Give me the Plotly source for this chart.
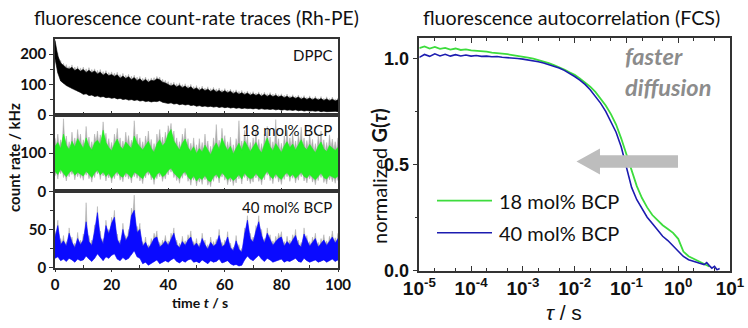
import plotly.graph_objects as go

# ---------------- data ----------------
TIME_S = list(range(0, 101))

# DPPC count-rate trace (kHz): dense black core and grey spikes
DPPC_HI = [245,194,171,162,155,151,157,146,152,144,
           150,140,147,139,145,135,141,131,138,129,
           133,127,132,121,128,120,126,116,123,113,
           119,110,117,108,114,112,119,116,108,105,
           101,95,100,92,98,90,95,87,93,84,
           89,81,87,80,85,77,84,76,81,74,
           80,73,78,70,76,68,73,67,72,65,
           70,64,69,62,68,61,67,60,65,59,
           63,57,62,55,60,54,59,52,57,51,
           56,50,55,49,54,48,53,47,52,46,
           50]
DPPC_LO = [185,138,112,104,97,92,86,82,78,74,
           68,70,64,66,61,63,59,61,57,58,
           55,57,53,55,51,53,49,51,48,50,
           46,48,44,46,43,45,44,47,42,40,
           38,40,36,38,34,36,33,35,31,33,
           29,31,28,30,27,29,26,28,25,27,
           24,26,23,25,22,24,21,23,21,22,
           20,22,19,21,19,20,18,20,17,19,
           16,18,16,17,15,17,14,16,13,15,
           13,14,12,14,11,13,11,12,11,12,
           11]
DPPC_SPIKE = [248,205,180,170,166,160,165,158,160,155,
              158,152,156,150,152,147,150,143,146,140,
              142,138,141,133,137,131,134,128,131,125,
              127,121,125,119,122,123,127,125,118,114,
              110,106,108,103,106,100,103,97,101,94,
              97,91,95,89,93,87,91,86,89,83,
              87,82,85,80,83,78,81,76,79,74,
              77,72,76,71,75,70,74,69,72,67,
              70,65,69,63,67,62,66,60,64,58,
              63,57,62,56,61,55,60,54,59,53,
              56]

# 18 mol% BCP trace
BCP18_HI = [118,128,112,150,121,109,131,116,138,124,
            112,140,119,108,127,134,122,160,128,115,
            106,124,137,118,110,129,121,112,145,126,
            117,108,120,131,113,102,124,135,119,128,
            150,162,132,118,108,126,137,115,104,117,
            99,112,103,121,109,96,114,127,110,139,
            121,107,118,98,113,126,108,132,119,104,
            116,128,111,101,122,140,117,106,125,113,
            102,119,130,114,124,108,121,135,116,109,
            123,112,101,118,129,111,104,120,113,107,
            115]
BCP18_LO = [52,44,58,47,38,49,55,42,50,46,
            40,53,45,36,48,56,43,51,39,47,
            34,45,52,41,37,49,44,35,50,46,
            39,33,47,53,42,31,45,50,38,44,
            55,61,48,40,33,46,52,38,30,41,
            27,36,31,42,29,25,38,45,34,49,
            41,30,37,28,35,44,32,48,39,33,
            36,47,38,30,42,53,40,33,46,37,
            31,43,49,38,45,34,41,50,39,35,
            44,37,30,40,48,36,32,42,38,34,
            40]
BCP18_SPIKE_HI = [140,150,135,190,145,130,155,140,162,150,
                  135,170,142,130,150,158,148,182,152,138,
                  128,150,165,140,132,155,146,134,185,150,
                  140,130,145,158,136,125,150,162,142,155,
                  172,178,158,140,130,150,165,138,126,140,
                  122,138,128,150,132,118,140,175,134,165,
                  146,130,142,122,138,185,132,160,145,128,
                  140,155,136,125,150,170,142,130,188,138,
                  126,145,160,140,152,132,148,168,140,133,
                  150,136,125,145,158,135,128,148,137,130,
                  140]
BCP18_SPIKE_LO = [40,32,46,36,27,38,44,30,38,34,
                  29,42,33,24,36,45,31,40,27,35,
                  22,33,41,29,25,37,32,22,38,34,
                  27,20,35,42,30,18,33,38,26,32,
                  43,50,36,28,21,34,41,26,16,29,
                  14,24,18,30,16,12,26,34,22,37,
                  29,17,25,15,22,32,19,36,27,20,
                  24,35,26,17,30,42,28,20,34,24,
                  18,31,38,26,34,22,29,38,27,22,
                  32,24,17,28,36,23,19,30,25,21,
                  28]

# 40 mol% BCP trace
BCP40_HI = [40,55,30,35,28,45,33,26,38,30,
            36,60,34,29,48,72,40,31,55,44,
            58,66,37,30,50,35,42,68,75,46,
            50,28,33,25,31,38,40,27,30,35,
            29,38,45,30,26,34,29,36,40,28,
            32,26,38,30,24,33,28,31,42,27,
            30,40,26,22,35,24,20,44,62,38,
            33,48,60,42,32,45,36,29,34,38,
            40,28,34,30,36,42,30,27,44,35,
            28,33,38,27,31,36,29,34,40,32,
            38]
BCP40_LO = [12,14,9,11,8,12,10,7,11,9,
            10,15,11,8,12,18,13,9,14,12,
            16,18,11,9,13,10,12,17,22,14,
            12,5,7,3,6,8,10,5,7,9,
            7,10,12,8,6,9,7,10,11,7,
            8,6,10,8,5,9,7,8,11,6,
            7,9,5,3,4,2,3,10,15,11,
            9,13,16,11,8,12,10,7,9,10,
            11,7,9,8,10,12,8,7,12,9,
            7,9,10,7,8,10,7,9,11,8,
            10]
BCP40_SPIKE = [48,62,38,42,34,52,40,32,46,36,
               44,85,42,36,56,80,48,38,62,50,
               66,75,44,36,58,42,50,78,95,54,
               58,34,40,30,38,45,48,33,36,42,
               35,45,52,36,32,41,35,43,48,34,
               38,32,45,36,30,40,34,37,50,33,
               36,47,32,27,42,30,25,52,68,45,
               40,55,68,50,38,52,43,35,41,45,
               47,34,41,36,43,50,36,33,52,42,
               34,40,45,33,38,43,35,41,48,39,
               45]

# FCS autocorrelation (log10 of tau in s, normalized G)
LOGTAU_40 = [-5.0,-4.9,-4.8,-4.7,-4.6,-4.5,-4.4,-4.3,-4.2,-4.1,
             -4.0,-3.9,-3.8,-3.7,-3.6,-3.5,-3.4,-3.3,-3.2,-3.1,
             -3.0,-2.9,-2.8,-2.7,-2.6,-2.5,-2.4,-2.3,-2.2,-2.1,
             -2.0,-1.9,-1.8,-1.7,-1.6,-1.5,-1.4,-1.3,-1.2,-1.1,
             -1.0,-0.9,-0.8,-0.7,-0.6,-0.5,-0.4,-0.3,-0.2,-0.1,
             0.0,0.1,0.2,0.3,0.4,0.5,0.55,0.6,0.65,0.7,0.75,0.8]
G_40 = [1.004,1.018,1.009,1.021,1.011,1.019,1.010,1.017,1.011,1.015,
        1.010,1.013,1.009,1.010,1.007,1.008,1.005,1.004,1.001,0.999,
        0.996,0.993,0.989,0.984,0.978,0.971,0.963,0.954,0.943,0.930,
        0.914,0.897,0.877,0.852,0.823,0.789,0.750,0.704,0.652,0.582,
        0.480,0.392,0.334,0.290,0.252,0.222,0.190,0.162,0.142,0.116,
        0.090,0.067,0.052,0.043,0.036,0.029,0.038,0.024,0.012,0.020,0.004,0.010]
LOGTAU_18 = [-5.0,-4.9,-4.8,-4.7,-4.6,-4.5,-4.4,-4.3,-4.2,-4.1,
             -4.0,-3.9,-3.8,-3.7,-3.6,-3.5,-3.4,-3.3,-3.2,-3.1,
             -3.0,-2.9,-2.8,-2.7,-2.6,-2.5,-2.4,-2.3,-2.2,-2.1,
             -2.0,-1.9,-1.8,-1.7,-1.6,-1.5,-1.4,-1.3,-1.2,-1.1,
             -1.0,-0.9,-0.8,-0.7,-0.6,-0.5,-0.4,-0.3,-0.2,-0.1,
             0.0,0.1,0.2,0.3,0.4,0.5,0.55,0.6]
G_18 = [1.048,1.056,1.046,1.053,1.044,1.049,1.041,1.046,1.039,1.042,
        1.037,1.036,1.032,1.031,1.027,1.025,1.021,1.019,1.015,1.012,
        1.008,1.003,0.998,0.992,0.985,0.977,0.968,0.958,0.947,0.934,
        0.922,0.905,0.887,0.866,0.842,0.812,0.778,0.737,0.688,0.622,
        0.545,0.468,0.398,0.342,0.298,0.262,0.236,0.214,0.196,0.178,
        0.150,0.090,0.068,0.056,0.045,0.032,0.025,0.020]

LOG_TICKS = [-5, -4, -3, -2, -1, 0, 1]
TRACE_LABELS = ["DPPC", "18 mol% BCP", "40 mol% BCP"]
LEGEND_NAMES = ["18 mol% BCP", "40 mol% BCP"]

# ---------------- styling helpers ----------------
W, H = 748, 328
def px(x):
    return x / W
def py(y):
    return 1 - y / H

FONT = "Lato"
AX_COL = "#333333"
GREY = "#ababab"
GREEN_TRACE = "#22ee22"
BLUE_TRACE = "#0a0aff"
GREEN_FCS = "#3ddc3d"
BLUE_FCS = "#1c1cb0"

fig = go.Figure()

def spiky_band(peak, valley_hi, base, valley_lo, color, xa, ya):
    """Polygon whose top edge alternates peak values (at each sample) with
    valley values (between samples) so the spikes stay narrow."""
    n = len(TIME_S)
    top_x, top_y, bot_x, bot_y = [], [], [], []
    for i in range(n):
        top_x.append(TIME_S[i]); top_y.append(peak[i])
        bot_x.append(TIME_S[i]); bot_y.append(base[i])
        if i < n - 1:
            mid = (TIME_S[i] + TIME_S[i + 1]) / 2
            top_x.append(mid); top_y.append(min(valley_hi[i], valley_hi[i + 1]))
            bot_x.append(mid); bot_y.append(max(valley_lo[i], valley_lo[i + 1]))
    xs = top_x + bot_x[::-1]
    ys = top_y + bot_y[::-1]
    fig.add_trace(go.Scatter(x=xs, y=ys, fill="toself", fillcolor=color,
                             mode="lines", line=dict(width=0.5, color=color),
                             hoverinfo="skip", showlegend=False,
                             xaxis=xa, yaxis=ya))

def band(lo, hi, color, xa, ya):
    xs = TIME_S + TIME_S[::-1]
    ys = list(hi) + list(lo)[::-1]
    fig.add_trace(go.Scatter(x=xs, y=ys, fill="toself", fillcolor=color,
                             mode="lines", line=dict(width=0.6, color=color),
                             hoverinfo="skip", showlegend=False,
                             xaxis=xa, yaxis=ya))

spiky_band(DPPC_SPIKE, DPPC_HI, DPPC_LO, DPPC_LO, GREY, "x", "y")
band(DPPC_LO, DPPC_HI, "#000000", "x", "y")
spiky_band(BCP18_SPIKE_HI, BCP18_HI, BCP18_SPIKE_LO, BCP18_LO, GREY, "x2", "y2")
band(BCP18_LO, BCP18_HI, GREEN_TRACE, "x2", "y2")
spiky_band(BCP40_SPIKE, BCP40_HI, BCP40_LO, BCP40_LO, GREY, "x3", "y3")
band(BCP40_LO, BCP40_HI, BLUE_TRACE, "x3", "y3")

tau18 = [10 ** e for e in LOGTAU_18]
tau40 = [10 ** e for e in LOGTAU_40]
fig.add_trace(go.Scatter(x=tau18, y=G_18, mode="lines", name=LEGEND_NAMES[0],
                         line=dict(color=GREEN_FCS, width=1.8), xaxis="x4", yaxis="y4",
                         showlegend=False))
fig.add_trace(go.Scatter(x=tau40, y=G_40, mode="lines", name=LEGEND_NAMES[1],
                         line=dict(color=BLUE_FCS, width=1.6), xaxis="x4", yaxis="y4",
                         showlegend=False))

LX = [px(55), px(338)]
left_x_common = dict(domain=LX, range=[0, 100], showline=True, mirror=True,
                     linecolor=AX_COL, linewidth=1.5, showgrid=False, zeroline=False,
                     automargin=False,
                     tickvals=[0, 20, 40, 60, 80, 100], ticks="inside", ticklen=4,
                     tickcolor=AX_COL,
                     minor=dict(tickvals=[10, 30, 50, 70, 90], ticks="inside", ticklen=3,
                                tickcolor=AX_COL))
left_y_common = dict(showline=True, mirror=True, linecolor=AX_COL, linewidth=1.5,
                     showgrid=False, zeroline=False, ticks="outside", ticklen=4,
                     automargin=False,
                     tickcolor=AX_COL, tickfont=dict(family=FONT, size=15, color="#111", weight="bold"))

fig.update_layout(
    width=W, height=H, margin=dict(l=0, r=0, t=0, b=0, autoexpand=False),
    paper_bgcolor="white", plot_bgcolor="white",
    xaxis=dict(left_x_common, anchor="y", showticklabels=False),
    yaxis=dict(left_y_common, domain=[py(115), py(39)], anchor="x", range=[0, 250],
               tickvals=[0, 100, 200],
               minor=dict(tickvals=[50, 150], ticks="outside", ticklen=3, tickcolor=AX_COL)),
    xaxis2=dict(left_x_common, anchor="y2", showticklabels=False),
    yaxis2=dict(left_y_common, domain=[py(191.3), py(115)], anchor="x2", range=[0, 200],
                tickvals=[0, 100],
                minor=dict(tickvals=[50, 150], ticks="outside", ticklen=3, tickcolor=AX_COL)),
    xaxis3=dict(left_x_common, anchor="y3", showticklabels=True, ticks="outside", ticklen=3,
                tickfont=dict(family=FONT, size=15, color="#111", weight="bold")),
    yaxis3=dict(left_y_common, domain=[py(267.5), py(191.3)], anchor="x3", range=[0, 100],
                tickvals=[0, 50],
                minor=dict(tickvals=[25, 75], ticks="outside", ticklen=3, tickcolor=AX_COL)),
    xaxis4=dict(type="log", domain=[px(419.3), px(730)], anchor="y4", range=[-5, 1],
                tickvals=[10 ** e for e in LOG_TICKS],
                ticktext=["10<sup>%d</sup>" % e for e in LOG_TICKS],
                tickfont=dict(family="Liberation Sans", size=19, color="#111", weight="bold"),
                showline=True, mirror="allticks", linecolor=AX_COL, linewidth=1.5,
                automargin=False,
                ticks="inside", ticklen=5, tickcolor=AX_COL, showgrid=False, zeroline=False,
                minor=dict(ticks="inside", ticklen=3, tickcolor=AX_COL, showgrid=False)),
    yaxis4=dict(domain=[py(270.7), py(38.3)], anchor="x4", range=[0, 1.094],
                tickvals=[0, 0.5, 1.0], ticktext=["0.0", "0.5", "1.0"],
                tickfont=dict(family="Liberation Sans", size=18, color="#111", weight="bold"),
                showline=True, mirror=True, linecolor=AX_COL, linewidth=1.5,
                automargin=False,
                ticks="outside", ticklen=5, tickcolor=AX_COL, showgrid=False, zeroline=False,
                minor=dict(tickvals=[0.25, 0.75], ticks="outside", ticklen=3, tickcolor=AX_COL)),
    yaxis5=dict(domain=[py(270.7), py(38.3)], anchor="x4", overlaying="y4", side="right",
                range=[0, 1.094], tickvals=[0, 0.25, 0.5, 0.75, 1.0], showticklabels=False,
                automargin=False,
                ticks="inside", ticklen=5, tickcolor=AX_COL, showgrid=False, zeroline=False,
                showline=False),
    showlegend=False,
)

ann = []
# titles
ann.append(dict(text="fluorescence count-rate traces (Rh-PE)", x=px(196), y=py(17),
                font=dict(family=FONT, size=19.3, color="#111")))
ann.append(dict(text="fluorescence autocorrelation (FCS)", x=px(571), y=py(17),
                font=dict(family=FONT, size=19.7, color="#111")))
# panel labels
for label, yy in zip(TRACE_LABELS, [55, 130, 207]):
    ann.append(dict(text=label, x=px(334), y=py(yy), xanchor="right",
                    font=dict(family=FONT, size=15, color="#111")))
# axis titles
ann.append(dict(text="<b>count rate / kHz</b>", x=px(14), y=py(158), textangle=-90,
                font=dict(family=FONT, size=15, color="#111")))
ann.append(dict(text="<b>time <i>t</i> / s</b>", x=px(200), y=py(302),
                font=dict(family=FONT, size=14, color="#111")))
ann.append(dict(text="<i>τ</i> / s", x=px(564), y=py(312),
                font=dict(family="Liberation Sans", size=21, color="#111")))
ann.append(dict(text="normalized <b>G(</b><b><i>τ</i></b><b>)</b>", x=px(379), y=py(176),
                textangle=-90, font=dict(family=FONT, size=20, color="#111")))
# faster diffusion
ann.append(dict(text="<b><i>faster<br>diffusion</i></b>", x=px(623), y=py(72),
                xanchor="left", align="left",
                font=dict(family=FONT, size=23.5, color="#8c8c8c")))
# legend (drawn by hand to match the long sample lines)
for name, yy in zip(LEGEND_NAMES, [201, 233]):
    ann.append(dict(text=name, x=px(497), y=py(yy), xanchor="left",
                    font=dict(family=FONT, size=20, color="#111")))
for a in ann:
    a.setdefault("xref", "paper")
    a.setdefault("yref", "paper")
    a.setdefault("showarrow", False)
    a.setdefault("xanchor", "center")
    a.setdefault("yanchor", "middle")
fig.update_layout(annotations=ann)

for col, yy, wd in [(GREEN_FCS, 200.7, 1.8), (BLUE_FCS, 232.7, 1.6)]:
    fig.add_shape(type="line", xref="paper", yref="paper", x0=px(437), x1=px(492),
                  y0=py(yy), y1=py(yy), line=dict(color=col, width=wd))

# grey block arrow (decoration)
pts = [(678, 155.3), (600, 155.3), (600, 148.5), (576.5, 161.5), (600, 174.5),
       (600, 167.7), (678, 167.7)]
path = "M " + " L ".join("%.4f,%.4f" % (px(a), py(b)) for a, b in pts) + " Z"
fig.add_shape(type="path", path=path, xref="paper", yref="paper",
              fillcolor="#bdbdbd", line=dict(width=0))

fig.write_html("out.html")
